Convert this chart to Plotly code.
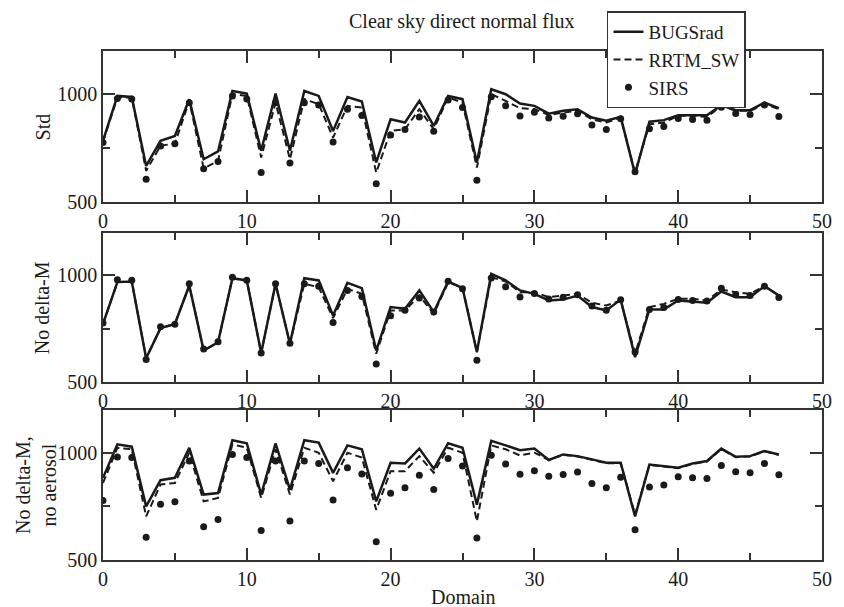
import plotly.graph_objects as go

domain = list(range(48))

sirs = [777, 980, 978, 606, 760, 771, 961, 655, 689, 992, 978, 637, 961, 682, 961, 950,
        779, 930, 901, 585, 811, 837, 895, 829, 973, 938, 602, 988, 947, 899, 916, 890,
        898, 910, 857, 837, 886, 641, 840, 850, 888, 883, 880, 940, 911, 906, 950, 897]

# Panel 1: Std
bugs_std = [784, 992, 987, 668, 784, 807, 977, 699, 735, 1015, 1003, 738, 1003, 738, 1015, 992,
            830, 987, 966, 684, 884, 869, 969, 853, 992, 977, 684, 1023, 1000, 957, 946, 910,
            923, 930, 892, 877, 895, 630, 873, 880, 903, 903, 903, 949, 926, 926, 961, 935]
rrtm_std = [780, 985, 985, 645, 761, 772, 969, 657, 691, 1000, 992, 707, 961, 699, 977, 954,
            799, 946, 938, 637, 830, 838, 931, 838, 985, 961, 660, 1000, 969, 935, 931, 904,
            915, 923, 884, 869, 892, 637, 861, 869, 900, 900, 895, 946, 923, 923, 954, 931]

# Panel 2: No delta-M
bugs_ndm = [773, 969, 972, 612, 753, 773, 953, 648, 687, 987, 977, 637, 961, 680, 987, 977,
            812, 966, 941, 648, 852, 844, 930, 828, 972, 941, 641, 1008, 977, 930, 914, 883,
            887, 906, 852, 836, 887, 617, 841, 841, 883, 878, 872, 925, 898, 898, 950, 906]
rrtm_ndm = [773, 969, 972, 612, 753, 773, 953, 648, 687, 987, 977, 637, 961, 680, 961, 945,
            800, 937, 914, 633, 836, 836, 906, 820, 966, 945, 641, 992, 972, 922, 922, 898,
            906, 914, 872, 859, 883, 633, 852, 867, 891, 891, 883, 934, 922, 914, 950, 906]

# Panel 3: No delta-M, no aerosol
bugs_nda = [883, 1039, 1028, 750, 872, 883, 1023, 805, 812, 1058, 1044, 805, 1044, 828, 1058, 1047,
            906, 1034, 1016, 773, 953, 950, 1019, 925, 1044, 1023, 758, 1055, 1034, 1012, 1019, 966,
            992, 984, 969, 953, 953, 703, 945, 938, 930, 950, 961, 1019, 981, 984, 1008, 992]
rrtm_nda = [859, 1023, 1016, 703, 852, 859, 1000, 773, 789, 1039, 1023, 789, 1016, 805, 1023, 1000,
            867, 1000, 977, 734, 914, 914, 984, 906, 1023, 1000, 680, 1034, 1016, 987, 1000, 966,
            990, 982, 967, 951, 951, 711, 943, 936, 928, 948, 959, 1017, 979, 982, 1006, 990]

panel_titles = ["Std", "No delta-M", "No delta-M,<br>no aerosol"]
main_title = "Clear sky direct normal flux"
x_title = "Domain"

FONT = "Liberation Serif"
INK = "#1a1a1a"

fig = go.Figure()
panels = [(bugs_std, rrtm_std), (bugs_ndm, rrtm_ndm), (bugs_nda, rrtm_nda)]
for k, (b, r) in enumerate(panels):
    xa = "x" if k == 0 else f"x{k+1}"
    ya = "y" if k == 0 else f"y{k+1}"
    first = k == 0
    fig.add_trace(go.Scatter(x=domain, y=b, mode="lines", name="BUGSrad",
                             line=dict(color=INK, width=2.5), xaxis=xa, yaxis=ya,
                             showlegend=first, legendrank=1))
    fig.add_trace(go.Scatter(x=domain, y=r, mode="lines", name="RRTM_SW",
                             line=dict(color=INK, width=2, dash="7px,4px"), xaxis=xa, yaxis=ya,
                             showlegend=first, legendrank=2))
    fig.add_trace(go.Scatter(x=domain, y=sirs, mode="markers", name="SIRS",
                             marker=dict(color=INK, size=7), xaxis=xa, yaxis=ya,
                             showlegend=first, legendrank=3))

H = 515.0
domains = [(1 - 153 / H, 1.0), (1 - 335 / H, 1 - 184 / H), (0.0, 1 - 363 / H)]

axis_common = dict(showgrid=False, zeroline=False, showline=True, linecolor="#333",
                   linewidth=1.5, mirror="allticks", ticks="inside", tickcolor="#333",
                   tickwidth=1.5, ticklen=12,
                   tickfont=dict(family=FONT, size=20, color=INK))
layout = {}
for k in range(3):
    xname = "xaxis" if k == 0 else f"xaxis{k+1}"
    yname = "yaxis" if k == 0 else f"yaxis{k+1}"
    yref = "y" if k == 0 else f"y{k+1}"
    xref = "x" if k == 0 else f"x{k+1}"
    layout[xname] = dict(axis_common, range=[0, 50], tickvals=[0, 10, 20, 30, 40, 50],
                         anchor=yref, domain=[0, 1],
                         minor=dict(ticks="inside", tickvals=[5, 15, 25, 35, 45], ticklen=7,
                                    tickcolor="#333", tickwidth=1.5))
    layout[yname] = dict(axis_common, range=[500, 1200], tickvals=[500, 1000],
                         anchor=xref, domain=list(domains[k]),
                         minor=dict(ticks="inside", tickvals=[750], ticklen=7,
                                    tickcolor="#333", tickwidth=1.5))
fig.update_layout(**layout)

annotations = []
ycent = [(d[0] + d[1]) / 2 for d in domains]
xpos = [-0.0837, -0.0837, -0.093]
for k in range(3):
    annotations.append(dict(text=panel_titles[k], x=xpos[k], y=ycent[k], xref="paper", yref="paper",
                            textangle=-90, showarrow=False, xanchor="center", yanchor="middle",
                            font=dict(family=FONT, size=20, color=INK)))
annotations.append(dict(text=x_title, x=0.5, y=-37 / H, xref="paper", yref="paper",
                        showarrow=False, xanchor="center", yanchor="middle",
                        font=dict(family=FONT, size=20, color=INK)))
annotations.append(dict(text=main_title, x=(467 - 103) / 729, y=1 + 30 / H, xref="paper", yref="paper",
                        showarrow=False, xanchor="center", yanchor="middle",
                        font=dict(family=FONT, size=20, color=INK)))

fig.update_layout(
    width=844, height=607,
    margin=dict(l=103, r=13, t=45, b=47),
    paper_bgcolor="white", plot_bgcolor="white",
    annotations=annotations,
    showlegend=True,
    legend=dict(x=(614 - 103) / 729, y=1 + 40 / H, xanchor="left", yanchor="top",
                bgcolor="white", bordercolor="#333", borderwidth=1.5,
                font=dict(family=FONT, size=19, color=INK), tracegroupgap=0,
                itemwidth=30),
)

fig.write_html("out.html")
